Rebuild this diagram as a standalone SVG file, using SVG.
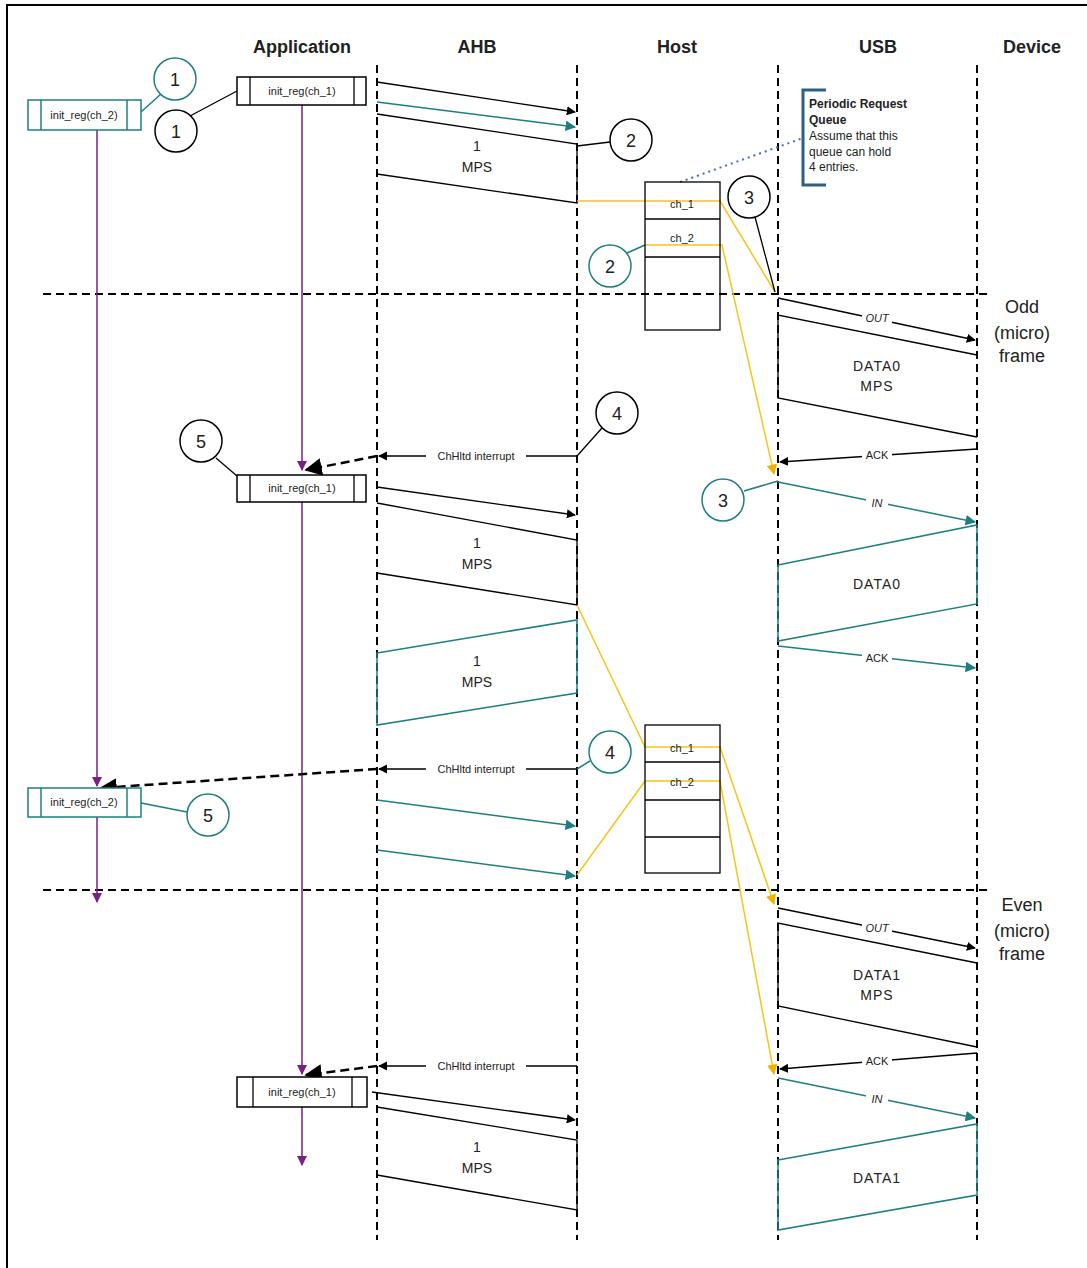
<svg xmlns="http://www.w3.org/2000/svg" width="1087" height="1268" viewBox="0 0 1087 1268">
<defs>
<marker id="ab" viewBox="0 0 10 10" refX="9" refY="5" markerWidth="7" markerHeight="7" orient="auto"><path d="M0,0L10,5L0,10z" fill="#000"/></marker>
<marker id="at" viewBox="0 0 10 10" refX="9" refY="5" markerWidth="7" markerHeight="7" orient="auto"><path d="M0,0L10,5L0,10z" fill="#1e7f7f"/></marker>
<marker id="ap" viewBox="0 0 10 10" refX="9" refY="5" markerWidth="7" markerHeight="7" orient="auto"><path d="M0,0L10,5L0,10z" fill="#7b1f86"/></marker>
<marker id="ay" viewBox="0 0 10 10" refX="9" refY="5" markerWidth="7" markerHeight="7" orient="auto"><path d="M0,0L10,5L0,10z" fill="#f0b400"/></marker>
</defs>
<style>
text{font-family:"Liberation Sans",Arial,sans-serif;fill:#222}
.h{font-size:18px;font-weight:bold;text-anchor:middle}
.m{font-size:14px;text-anchor:middle}
.s{font-size:11px;text-anchor:middle}
.n{font-size:18px;text-anchor:middle}
.f{font-size:18px;text-anchor:middle}
.lbl{font-size:11px;text-anchor:middle}
.life{stroke:#000;stroke-width:2;stroke-dasharray:8 5;fill:none}
.bk{stroke:#000;stroke-width:1.3;fill:none}
.tl{stroke:#1e7f7f;stroke-width:1.5;fill:none}
.pu{stroke:#7b1f86;stroke-width:1.5;fill:none}
.ye{stroke:#f5c518;stroke-width:1.5;fill:none}
.cb{fill:#fff;stroke:#000;stroke-width:1.5}
.ct{fill:#fff;stroke:#1e7f7f;stroke-width:1.5}
.hd{stroke:#000;stroke-width:2.5;stroke-dasharray:9 5;fill:none}
</style>
<rect width="1087" height="1268" fill="#fff"/>
<rect x="7" y="5" width="1090" height="1280" fill="none" stroke="#000" stroke-width="2"/>
<g id="headers">
<text class="h" x="302" y="53">Application</text>
<text class="h" x="477" y="53">AHB</text>
<text class="h" x="677" y="53">Host</text>
<text class="h" x="878" y="53">USB</text>
<text class="h" x="1032" y="53">Device</text>
</g>
<g id="lifelines">
<line class="life" x1="377" y1="65" x2="377" y2="1240"/>
<line class="life" x1="577" y1="65" x2="577" y2="1240"/>
<line class="life" x1="778" y1="65" x2="778" y2="1240"/>
<line class="life" x1="977" y1="65" x2="977" y2="1240"/>
<line class="life" x1="43" y1="294" x2="990" y2="294"/>
<line class="life" x1="43" y1="890" x2="990" y2="890"/>
</g>
<g id="frames">
<text class="f" x="1022" y="313">Odd</text><text class="f" x="1022" y="339">(micro)</text><text class="f" x="1022" y="362">frame</text>
<text class="f" x="1022" y="911">Even</text><text class="f" x="1022" y="937">(micro)</text><text class="f" x="1022" y="960">frame</text>
</g>
<g id="connectors">
<line class="pu" x1="302" y1="105" x2="302" y2="470" marker-end="url(#ap)"/>
<line class="pu" x1="302" y1="502" x2="302" y2="1074" marker-end="url(#ap)"/>
<line class="pu" x1="302" y1="1107" x2="302" y2="1165" marker-end="url(#ap)"/>
<line class="pu" x1="97" y1="130" x2="97" y2="786" marker-end="url(#ap)"/>
<line class="pu" x1="97" y1="817" x2="97" y2="902" marker-end="url(#ap)"/>
<line class="bk" x1="377" y1="82" x2="575" y2="112" marker-end="url(#ab)"/>
<line class="tl" x1="377" y1="102" x2="575" y2="127" marker-end="url(#at)"/>
<polyline class="bk" points="377,114 577,144 577,203 377,174"/>
<polyline class="ye" points="577,201 720,201 775,292"/>
<polyline class="ye" points="645,245 722,245 774,474" marker-end="url(#ay)"/>
<line x1="680" y1="182" x2="803" y2="138" stroke="#4a6fa5" stroke-width="2" stroke-dasharray="2 4"/>
<line class="bk" x1="778" y1="298" x2="975" y2="340" marker-end="url(#ab)"/>
<polyline class="bk" points="977,355 778,315 778,398 977,437"/>
<line class="bk" x1="977" y1="449" x2="780" y2="462" marker-end="url(#ab)"/>
<line class="bk" x1="577" y1="456" x2="379" y2="456" marker-end="url(#ab)"/>
<line class="hd" x1="377" y1="456" x2="306" y2="470" marker-end="url(#ab)"/>
<line class="bk" x1="377" y1="487" x2="575" y2="515" marker-end="url(#ab)"/>
<polyline class="bk" points="377,503 577,540 577,605 377,573"/>
<polygon class="tl" points="377,653 577,620 577,693 377,725"/>
<line class="tl" x1="778" y1="482" x2="975" y2="522" marker-end="url(#at)"/>
<polygon class="tl" points="778,565 977,525 977,604 778,641"/>
<line class="tl" x1="778" y1="646" x2="975" y2="668" marker-end="url(#at)"/>
<polyline class="ye" points="577,605 645,747 720,747 774,904" marker-end="url(#ay)"/>
<polyline class="ye" points="577,875 645,781 720,781 774,1074" marker-end="url(#ay)"/>
<line class="bk" x1="577" y1="769" x2="379" y2="769" marker-end="url(#ab)"/>
<line class="hd" x1="377" y1="769" x2="101" y2="788" marker-end="url(#ab)"/>
<line class="tl" x1="377" y1="800" x2="575" y2="826" marker-end="url(#at)"/>
<line class="tl" x1="377" y1="850" x2="575" y2="876" marker-end="url(#at)"/>
<line class="bk" x1="778" y1="908" x2="975" y2="948" marker-end="url(#ab)"/>
<polyline class="bk" points="977,963 778,923 778,1006 977,1047"/>
<line class="bk" x1="977" y1="1053" x2="780" y2="1069" marker-end="url(#ab)"/>
<line class="bk" x1="577" y1="1066" x2="379" y2="1066" marker-end="url(#ab)"/>
<line class="hd" x1="377" y1="1066" x2="306" y2="1075" marker-end="url(#ab)"/>
<line class="bk" x1="372" y1="1092" x2="575" y2="1120" marker-end="url(#ab)"/>
<polyline class="bk" points="377,1107 577,1140 577,1210 377,1175"/>
<line class="tl" x1="778" y1="1078" x2="975" y2="1118" marker-end="url(#at)"/>
<polygon class="tl" points="778,1160 977,1124 977,1195 778,1230"/>
<line class="tl" x1="141" y1="112" x2="161" y2="94"/>
<line class="bk" x1="237" y1="91" x2="190" y2="116"/>
<line class="bk" x1="577" y1="146" x2="610" y2="142"/>
<line class="bk" x1="755" y1="217" x2="775" y2="292"/>
<line class="tl" x1="627" y1="253" x2="645" y2="245"/>
<line class="bk" x1="577" y1="456" x2="602" y2="428"/>
<line class="bk" x1="216" y1="458" x2="237" y2="476"/>
<line class="tl" x1="744" y1="491" x2="778" y2="481"/>
<line class="tl" x1="577" y1="769" x2="590" y2="761"/>
<line class="tl" x1="141" y1="803" x2="187" y2="812"/>
</g>
<g id="labels">
<text class="m" x="477" y="151">1</text><text class="m" x="477" y="172">MPS</text>
<text class="m" x="477" y="548">1</text><text class="m" x="477" y="569">MPS</text>
<text class="m" x="477" y="666">1</text><text class="m" x="477" y="687">MPS</text>
<text class="m" x="477" y="1152">1</text><text class="m" x="477" y="1173">MPS</text>
<text class="m" x="877" y="371" letter-spacing="1">DATA0</text><text class="m" x="877" y="391" letter-spacing="1">MPS</text>
<text class="m" x="877" y="589" letter-spacing="1">DATA0</text>
<text class="m" x="877" y="980" letter-spacing="1">DATA1</text><text class="m" x="877" y="1000" letter-spacing="1">MPS</text>
<text class="m" x="877" y="1183" letter-spacing="1">DATA1</text>
<g class="lbl">
<rect x="862" y="311" width="30" height="12" fill="#fff"/><text class="lbl" x="877" y="322" font-style="italic">OUT</text>
<rect x="862" y="449" width="30" height="12" fill="#fff"/><text class="lbl" x="877" y="459">ACK</text>
<rect x="866" y="496" width="22" height="12" fill="#fff"/><text class="lbl" x="877" y="507" font-style="italic">IN</text>
<rect x="862" y="652" width="30" height="12" fill="#fff"/><text class="lbl" x="877" y="662">ACK</text>
<rect x="862" y="922" width="30" height="12" fill="#fff"/><text class="lbl" x="877" y="932" font-style="italic">OUT</text>
<rect x="862" y="1055" width="30" height="12" fill="#fff"/><text class="lbl" x="877" y="1065">ACK</text>
<rect x="866" y="1092" width="22" height="12" fill="#fff"/><text class="lbl" x="877" y="1103" font-style="italic">IN</text>
<rect x="426" y="450" width="100" height="12" fill="#fff"/><text class="lbl" x="476" y="460">ChHltd interrupt</text>
<rect x="426" y="763" width="100" height="12" fill="#fff"/><text class="lbl" x="476" y="773">ChHltd interrupt</text>
<rect x="426" y="1060" width="100" height="12" fill="#fff"/><text class="lbl" x="476" y="1070">ChHltd interrupt</text>
</g>
</g>
<g id="box-app1"><rect class="cb" x="237" y="77" width="129" height="28"/><line class="bk" x1="250" y1="77" x2="250" y2="105"/><line class="bk" x1="354" y1="77" x2="354" y2="105"/><text class="s" x="302" y="95">init_reg(ch_1)</text></g>
<g id="box-app2"><rect class="cb" x="237" y="475" width="129" height="27"/><line class="bk" x1="250" y1="475" x2="250" y2="502"/><line class="bk" x1="354" y1="475" x2="354" y2="502"/><text class="s" x="302" y="492">init_reg(ch_1)</text></g>
<g id="box-app3"><rect class="cb" x="237" y="1077" width="130" height="30"/><line class="bk" x1="253" y1="1077" x2="253" y2="1107"/><line class="bk" x1="352" y1="1077" x2="352" y2="1107"/><text class="s" x="302" y="1096">init_reg(ch_1)</text></g>
<g id="box-ch2a"><rect class="ct" x="28" y="100" width="113" height="30"/><line class="tl" x1="41" y1="100" x2="41" y2="130"/><line class="tl" x1="127" y1="100" x2="127" y2="130"/><text class="s" x="84" y="119">init_reg(ch_2)</text></g>
<g id="box-ch2b"><rect class="ct" x="28" y="788" width="113" height="29"/><line class="tl" x1="41" y1="788" x2="41" y2="817"/><line class="tl" x1="127" y1="788" x2="127" y2="817"/><text class="s" x="84" y="806">init_reg(ch_2)</text></g>
<g id="queue1"><rect x="645" y="182" width="75" height="148" fill="none" stroke="#000" stroke-width="1.3"/><line class="bk" x1="645" y1="219" x2="720" y2="219"/><line class="bk" x1="645" y1="257" x2="720" y2="257"/><text class="s" x="682" y="208">ch_1</text><text class="s" x="682" y="242">ch_2</text></g>
<g id="queue2"><rect x="645" y="725" width="75" height="148" fill="none" stroke="#000" stroke-width="1.3"/><line class="bk" x1="645" y1="762" x2="720" y2="762"/><line class="bk" x1="645" y1="800" x2="720" y2="800"/><line class="bk" x1="645" y1="837" x2="720" y2="837"/><text class="s" x="682" y="752">ch_1</text><text class="s" x="682" y="786">ch_2</text></g>
<g id="note"><polyline points="826,90 803,90 803,185 826,185" fill="none" stroke="#2e5f86" stroke-width="3"/>
<text x="809" y="108" font-size="12" font-weight="bold">Periodic Request</text><text x="809" y="124" font-size="12" font-weight="bold">Queue</text>
<text x="809" y="140" font-size="12">Assume that this</text><text x="809" y="156" font-size="12">queue can hold</text><text x="809" y="171" font-size="12">4 entries.</text></g>
<g id="circles">
<circle class="ct" cx="175" cy="79" r="21"/><text class="n" x="175" y="86">1</text>
<circle class="cb" cx="176" cy="131" r="21"/><text class="n" x="176" y="138">1</text>
<circle class="cb" cx="631" cy="140" r="21"/><text class="n" x="631" y="147">2</text>
<circle class="cb" cx="749" cy="197" r="21"/><text class="n" x="749" y="204">3</text>
<circle class="ct" cx="610" cy="266" r="21"/><text class="n" x="610" y="273">2</text>
<circle class="cb" cx="617" cy="413" r="21"/><text class="n" x="617" y="420">4</text>
<circle class="cb" cx="201" cy="441" r="21"/><text class="n" x="201" y="448">5</text>
<circle class="ct" cx="723" cy="500" r="21"/><text class="n" x="723" y="507">3</text>
<circle class="ct" cx="610" cy="752" r="21"/><text class="n" x="610" y="759">4</text>
<circle class="ct" cx="208" cy="815" r="21"/><text class="n" x="208" y="822">5</text>
</g>
</svg>
